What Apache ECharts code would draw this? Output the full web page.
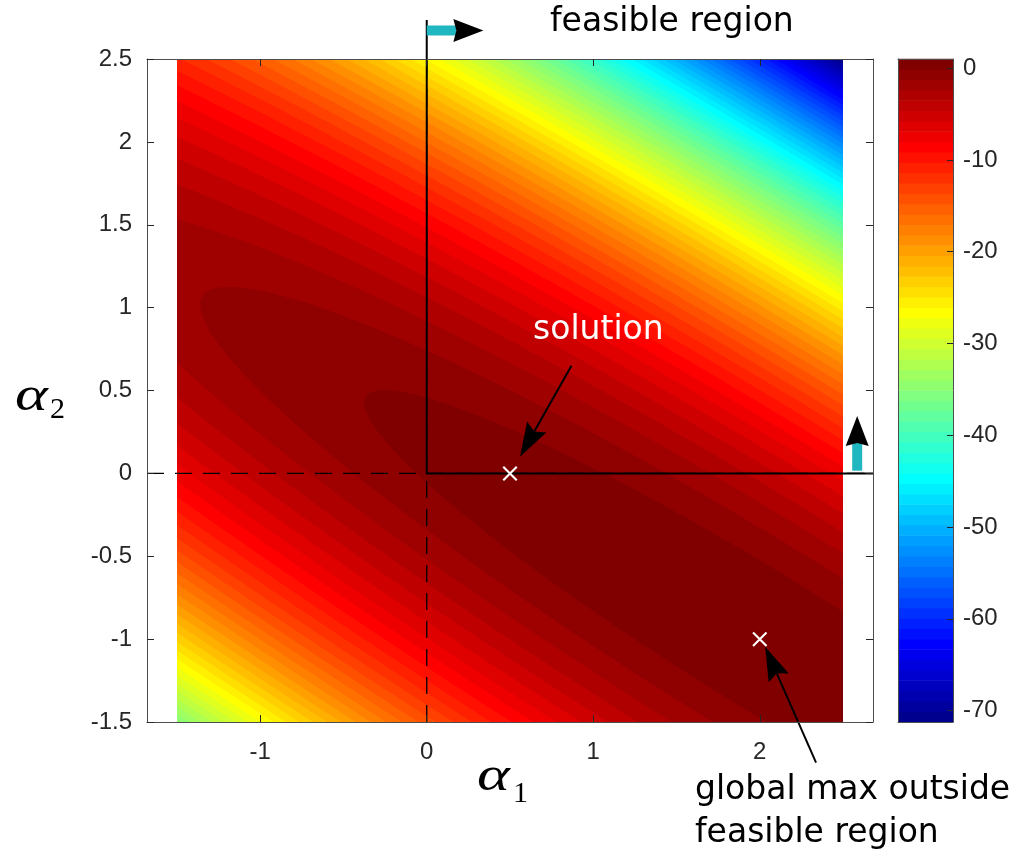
<!DOCTYPE html>
<html>
<head>
<meta charset="utf-8">
<script src="https://cdn.jsdelivr.net/npm/echarts@6/dist/echarts.min.js"></script>
<style>html,body{margin:0;padding:0;background:#fff}#chart{width:1024px;height:857px}</style>
</head>
<body>
<div id="chart"></div>
<script>
// ---------- values ----------
const alphaExtent = [-1.5, 2.5];        // sampled domain of alpha1 and alpha2
const peakAlpha = [2, -1];              // location of the global maximum
const peakValue = [1];                  // objective value at the global maximum
const curvature = [2, 3, 5];            // quadratic form h11, h12, h22 of the objective
const colorLimits = [-71.25, 1];
const levelCount = [64];
const colorTicks = [0, -10, -20, -30, -40, -50, -60, -70];
const xView = [-1.68, 2.68];
const yView = [-1.5, 2.5];
const xTicks = [-1, 0, 1, 2];
const solutionPoint = [0.5, 0];
const globalMaxPoint = [2, -1];
const dashVertical = [[0, -1.5], [0, 2.5]];
const dashHorizontal = [[-1.68, 0], [2.68, 0]];
const feasibleEdge = [[0, 2.735], [0, 0], [2.68, 0]];
const solutionArrow = [0.869, 0.650, 0.560, 0.101];
const globalMaxArrow = [2.338, -1.745, 2.032, -1.046];
const flagTop = [0, 2.672, 0.340, 2.672];
const flagRight = [2.585, 0.016, 2.585, 0.346];

// ---------- layout ----------
const G = {left: 147, top: 59, width: 726, height: 663};
const CB = {left: 898, top: 59, width: 55, height: 663};

// ---------- MATLAB jet(n) ----------
function jet(n) {
  const m = Math.ceil(n / 4);
  const u = [];
  for (let k = 1; k <= m; k++) u.push(k / m);
  for (let k = 1; k < m; k++) u.push(1);
  for (let k = m; k >= 1; k--) u.push(k / m);
  const g0 = Math.ceil(m / 2) - (n % 4 === 1 ? 1 : 0);
  const R = new Array(n).fill(0), Gc = new Array(n).fill(0), B = new Array(n).fill(0);
  for (let k = 0; k < u.length; k++) {
    const gi = g0 + k + 1, ri = gi + m, bi = gi - m;
    if (gi >= 1 && gi <= n) Gc[gi - 1] = u[k];
    if (ri >= 1 && ri <= n) R[ri - 1] = u[k];
    if (bi >= 1 && bi <= n) B[bi - 1] = u[k];
  }
  return R.map((r, i) => 'rgb(' + Math.round(r * 255) + ',' + Math.round(Gc[i] * 255) + ',' + Math.round(B[i] * 255) + ')');
}
const jetColors = jet(levelCount[0]);
const lstep = (colorLimits[1] - colorLimits[0]) / jetColors.length;
const pieces = jetColors.map((c, i) => {
  const p = {gte: colorLimits[0] + i * lstep, color: c};
  if (i === jetColors.length - 1) p.lte = colorLimits[1] + 1e-9; else p.lt = colorLimits[0] + (i + 1) * lstep;
  return p;
});
// one record per contour band: [low, high, mid]
const bands = jetColors.map((c, i) => [colorLimits[0] + i * lstep, colorLimits[0] + (i + 1) * lstep, colorLimits[0] + (i + 0.5) * lstep]);

// ---------- superlevel set {f >= level} of the quadratic objective (an ellipse) ----------
const hA = curvature[0], hB = curvature[1], hC = curvature[2];
const tr = (hA + hC) / 2, disc = Math.sqrt(((hA - hC) / 2) ** 2 + hB * hB);
const lam = [tr + disc, tr - disc];
const vec = lam.map(l => { const x = hB, y = l - hA, n = Math.hypot(x, y); return [x / n, y / n]; });
function clipPoly(pts, x0, x1, y0, y1) {
  const edges = [p => p[0] >= x0, p => p[0] <= x1, p => p[1] >= y0, p => p[1] <= y1];
  const inter = [
    (a, b) => { const t = (x0 - a[0]) / (b[0] - a[0]); return [x0, a[1] + t * (b[1] - a[1])]; },
    (a, b) => { const t = (x1 - a[0]) / (b[0] - a[0]); return [x1, a[1] + t * (b[1] - a[1])]; },
    (a, b) => { const t = (y0 - a[1]) / (b[1] - a[1]); return [a[0] + t * (b[0] - a[0]), y0]; },
    (a, b) => { const t = (y1 - a[1]) / (b[1] - a[1]); return [a[0] + t * (b[0] - a[0]), y1]; }
  ];
  let out = pts;
  for (let e = 0; e < 4; e++) {
    const inp = out; out = [];
    if (!inp.length) break;
    for (let i = 0; i < inp.length; i++) {
      const cur = inp[i], prev = inp[(i + inp.length - 1) % inp.length];
      const ci = edges[e](cur), pi = edges[e](prev);
      if (ci) { if (!pi) out.push(inter[e](prev, cur)); out.push(cur); }
      else if (pi) out.push(inter[e](prev, cur));
    }
  }
  return out;
}
function ellipsePoints(level) {
  const r = Math.sqrt(Math.max(peakValue[0] - level, 0));
  const pts = [];
  const M = 720;
  for (let k = 0; k < M; k++) {
    const t = 2 * Math.PI * k / M;
    const c = Math.cos(t) * r / Math.sqrt(lam[0]), s = Math.sin(t) * r / Math.sqrt(lam[1]);
    pts.push([peakAlpha[0] + c * vec[0][0] + s * vec[1][0], peakAlpha[1] + c * vec[0][1] + s * vec[1][1]]);
  }
  return pts;
}

const axisColor = '#4d4d4d';
const labelFont = {fontFamily: 'Liberation Sans', fontSize: 24, color: '#262626'};
const lineStyle = {color: axisColor, width: 1};
const tickStyle = {color: '#262626', width: 1};

function boxAxis(extra) {
  return Object.assign({
    type: 'value', z: 10,
    axisLine: {show: true, onZero: false, lineStyle: lineStyle},
    axisTick: {show: false},
    axisLabel: {show: false},
    splitLine: {show: false}
  }, extra);
}

const chart = echarts.init(document.getElementById('chart'), null, {renderer: 'canvas'});
chart.setOption({
  animation: false,
  backgroundColor: '#fff',
  grid: [
    {left: G.left, top: G.top, width: G.width, height: G.height},
    {left: CB.left, top: CB.top, width: CB.width, height: CB.height}
  ],
  xAxis: [
    boxAxis({gridIndex: 0, min: xView[0], max: xView[1], position: 'bottom',
      axisTick: {show: true, inside: true, length: 7, customValues: xTicks, lineStyle: tickStyle},
      axisLabel: Object.assign({show: true, margin: 18, customValues: xTicks}, labelFont)}),
    boxAxis({gridIndex: 0, min: xView[0], max: xView[1], position: 'top',
      axisTick: {show: true, inside: true, length: 7, customValues: xTicks, lineStyle: tickStyle}}),
    boxAxis({gridIndex: 1, min: 0, max: 1, position: 'bottom'}),
    boxAxis({gridIndex: 1, min: 0, max: 1, position: 'top'})
  ],
  yAxis: [
    boxAxis({gridIndex: 0, min: yView[0], max: yView[1], interval: 0.5, position: 'left',
      axisTick: {show: true, inside: true, length: 7, lineStyle: tickStyle},
      axisLabel: Object.assign({show: true, margin: 15}, labelFont)}),
    boxAxis({gridIndex: 0, min: yView[0], max: yView[1], interval: 0.5, position: 'right',
      axisTick: {show: true, inside: true, length: 7, lineStyle: tickStyle}}),
    boxAxis({gridIndex: 1, min: colorLimits[0], max: colorLimits[1], position: 'right',
      axisTick: {show: true, inside: true, length: 6, customValues: colorTicks, lineStyle: tickStyle},
      axisLabel: Object.assign({show: true, margin: 10, customValues: colorTicks}, labelFont)}),
    boxAxis({gridIndex: 1, min: colorLimits[0], max: colorLimits[1], position: 'left'})
  ],
  visualMap: {
    type: 'piecewise', show: false, dimension: 2, seriesIndex: [0, 1],
    pieces: pieces, outOfRange: {color: '#ffffff'}
  },
  series: [
    {type: 'custom', name: 'objective', xAxisIndex: 0, yAxisIndex: 0, data: bands, silent: true, clip: false, z: 1,
      renderItem: function (params, api) {
        // domain rectangle snapped to whole pixels so that all bands share crisp outer edges
        const pLo = api.coord([alphaExtent[0], alphaExtent[0]]);
        const pHi = api.coord([alphaExtent[1], alphaExtent[1]]);
        const L = Math.round(pLo[0]), R = Math.round(pHi[0]), T = Math.round(pHi[1]), B = Math.round(pLo[1]);
        let region;
        if (params.dataIndex === 0) region = [[L, B], [R, B], [R, T], [L, T]];
        else region = clipPoly(ellipsePoints(api.value(0)).map(p => api.coord(p)), L, R, T, B);
        if (region.length < 3) return null;
        return {type: 'polygon', shape: {points: region}, style: {fill: api.visual('color')}};
      }},
    {type: 'custom', name: 'colorbar', xAxisIndex: 2, yAxisIndex: 2, data: bands, silent: true, z: 1,
      renderItem: function (params, api) {
        const p1 = api.coord([0, api.value(1)]);
        const p2 = api.coord([1, api.value(0)]);
        return {type: 'rect', shape: {x: p1[0], y: p1[1] - 0.3, width: p2[0] - p1[0], height: p2[1] - p1[1] + 0.6},
          style: {fill: api.visual('color')}};
      }},
    {type: 'line', xAxisIndex: 0, yAxisIndex: 0, data: dashVertical, symbol: 'none', silent: true, z: 3,
      lineStyle: {color: '#000', width: 1.3, type: [17, 11]}},
    {type: 'line', xAxisIndex: 0, yAxisIndex: 0, data: dashHorizontal, symbol: 'none', silent: true, z: 3,
      lineStyle: {color: '#000', width: 1.3, type: [17, 11]}},
    {type: 'line', xAxisIndex: 0, yAxisIndex: 0, data: feasibleEdge, symbol: 'none', silent: true, z: 4, clip: false,
      lineStyle: {color: '#000', width: 2}},
    {type: 'scatter', xAxisIndex: 0, yAxisIndex: 0, data: [solutionPoint, globalMaxPoint], silent: true, z: 5,
      symbol: 'path://M0,1L1,0L10,9L9,10Z M9,0L10,1L1,10L0,9Z', symbolSize: 15,
      itemStyle: {color: '#ffffff', opacity: 1}},
    {type: 'custom', xAxisIndex: 0, yAxisIndex: 0, clip: false, silent: true, z: 6,
      data: [solutionArrow.concat([0]), globalMaxArrow.concat([0]), flagTop.concat([1]), flagRight.concat([1])],
      renderItem: function (params, api) {
        const a = api.coord([api.value(0), api.value(1)]);
        const b = api.coord([api.value(2), api.value(3)]);
        const kind = api.value(4);
        const dx = b[0] - a[0], dy = b[1] - a[1], L = Math.hypot(dx, dy);
        const ux = dx / L, uy = dy / L, nx = -uy, ny = ux;
        const st = kind === 1 ? {len: 30, w: 23, notch: 3, shaft: 10, color: '#21b7c1'}
                              : {len: 34, w: 22, notch: 5, shaft: 2, color: '#000'};
        const bx = b[0] - ux * st.len, by = b[1] - uy * st.len;
        const mx = b[0] - ux * (st.len - st.notch), my = b[1] - uy * (st.len - st.notch);
        return {type: 'group', children: [
          {type: 'line', shape: {x1: a[0], y1: a[1], x2: mx, y2: my}, style: {stroke: st.color, lineWidth: st.shaft}},
          {type: 'polygon', shape: {points: [[b[0], b[1]], [bx + nx * st.w / 2, by + ny * st.w / 2], [mx, my], [bx - nx * st.w / 2, by - ny * st.w / 2]]},
            style: {fill: '#000'}}
        ]};
      }}
  ],
  graphic: [
    {type: 'text', x: 550, y: 22, silent: true, style: {text: 'feasible region', font: '33px "DejaVu Sans"', fill: '#000', textAlign: 'left', textVerticalAlign: 'middle'}},
    {type: 'text', x: 533, y: 330, silent: true, z: 10, style: {text: 'solution', font: '33px "DejaVu Sans"', fill: '#fff', textAlign: 'left', textVerticalAlign: 'middle'}},
    {type: 'text', x: 695, y: 790, silent: true, style: {text: 'global max outside', font: '33px "DejaVu Sans"', fill: '#000', textAlign: 'left', textVerticalAlign: 'middle'}},
    {type: 'text', x: 695, y: 833, silent: true, style: {text: 'feasible region', font: '33px "DejaVu Sans"', fill: '#000', textAlign: 'left', textVerticalAlign: 'middle'}},
    {type: 'text', x: 477, y: 777, scaleX: 1.3, silent: true, style: {text: 'α', font: 'italic 48px "Liberation Serif"', fill: '#000', textAlign: 'left', textVerticalAlign: 'middle'}},
    {type: 'text', x: 513, y: 794, silent: true, style: {text: '1', font: '30px "Liberation Serif"', fill: '#000', textAlign: 'left', textVerticalAlign: 'middle'}},
    {type: 'text', x: 15, y: 397, scaleX: 1.3, silent: true, style: {text: 'α', font: 'italic 48px "Liberation Serif"', fill: '#000', textAlign: 'left', textVerticalAlign: 'middle'}},
    {type: 'text', x: 50, y: 410, silent: true, style: {text: '2', font: '30px "Liberation Serif"', fill: '#000', textAlign: 'left', textVerticalAlign: 'middle'}}
  ]
});
</script>
</body>
</html>
